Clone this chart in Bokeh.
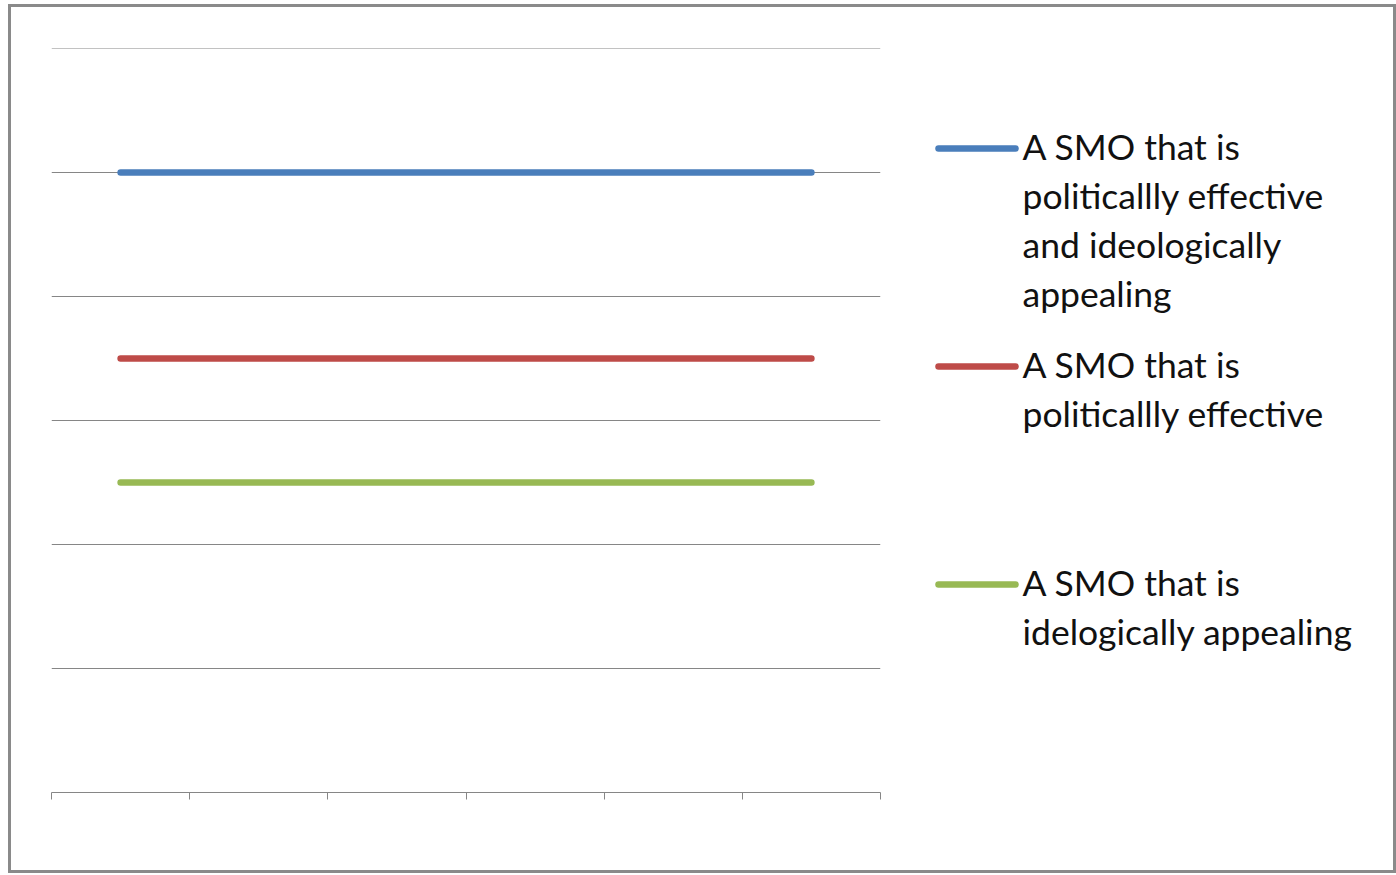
from bokeh.plotting import figure
from bokeh.layouts import row
from bokeh.models import Range1d, FixedTicker
from bokeh.core.properties import value
from bokeh.embed import file_html
from bokeh.resources import INLINE

# ---- data ----
categories = [1, 2, 3, 4, 5, 6]
both_values = [5, 5, 5, 5, 5, 5]
effective_values = [3.5, 3.5, 3.5, 3.5, 3.5, 3.5]
appealing_values = [2.5, 2.5, 2.5, 2.5, 2.5, 2.5]
y_ticks = [0, 1, 2, 3, 4, 5, 6]
series_labels = [
    ["A SMO that is", "politicallly effective", "and ideologically", "appealing"],
    ["A SMO that is", "politicallly effective"],
    ["A SMO that is", "idelogically appealing"],
]
series_colors = ["#4A7EBB", "#BE4B48", "#98B954"]

GRID = "#868686"
FONT = "Lato"

# layout (screen pixels)
OX, OY = 11, 7            # inner top-left of the framed box
LW, H = 889, 863          # left figure size
RW = 493                  # legend panel width
TOP, BOT = 41, 78         # borders above / below the plotting frame
FT, FB = OY + TOP, OY + H - BOT   # frame top / bottom in screen px

# ---- chart ----
p = figure(width=LW, height=H, x_range=Range1d(0.5, 6.5), y_range=Range1d(0, 6.0005),
           output_backend="svg", toolbar_location=None,
           min_border_left=40, min_border_right=20, min_border_top=TOP, min_border_bottom=BOT)
p.outline_line_color = None
p.background_fill_color = "white"
p.border_fill_color = "white"

xt = [c - 0.5 for c in categories] + [categories[-1] + 0.5]
p.xaxis.ticker = FixedTicker(ticks=xt)
p.xaxis.major_label_overrides = {t: "" for t in xt}
p.xaxis.axis_line_color = GRID
p.xaxis.axis_line_width = 1
p.xaxis.major_tick_line_color = GRID
p.xaxis.major_tick_in = 0
p.xaxis.major_tick_out = 7
p.xaxis.minor_tick_line_color = None
p.xgrid.visible = False

p.yaxis.visible = False
p.ygrid.ticker = FixedTicker(ticks=y_ticks)
p.ygrid.grid_line_color = GRID
p.ygrid.grid_line_width = 1

for vals, col in zip([both_values, effective_values, appealing_values], series_colors):
    p.line(categories, vals, line_color=col, line_width=6.5, line_cap="round")

# ---- legend panel (data units == screen pixels) ----
q = figure(width=RW, height=H, x_range=Range1d(OX + LW, OX + LW + RW), y_range=Range1d(FB, FT),
           output_backend="svg", toolbar_location=None, x_axis_type=None, y_axis_type=None,
           min_border_left=0, min_border_right=0, min_border_top=TOP, min_border_bottom=BOT)
q.outline_line_color = None
q.grid.visible = False
q.background_fill_color = "white"
q.border_fill_color = "white"

legend_line_y = [148, 366, 584]
line_gap = 49
for labels, col, ly in zip(series_labels, series_colors, legend_line_y):
    q.segment(x0=[938], y0=[ly], x1=[1015], y1=[ly], line_color=col, line_width=6.5, line_cap="round")
    q.text(x=[1022] * len(labels), y=[ly - 2 + i * line_gap for i in range(len(labels))],
           text=labels, text_font=value(FONT), text_font_size="35.5px",
           text_color="#111111", text_baseline="alphabetic", text_align="left")

layout = row(p, q, styles={"border": "3px solid #8a8a8a", "margin-left": "8px", "margin-top": "4px"})

open("out.html", "w").write(file_html(layout, INLINE))
